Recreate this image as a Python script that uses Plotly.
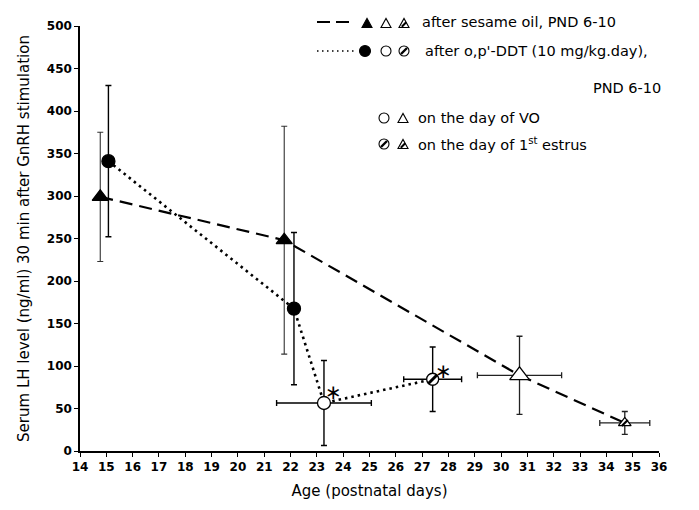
import plotly.graph_objects as go

# ---------------- data ----------------
sesame_day = [14.77, 21.76, 30.7, 34.7]
sesame_lh = [299, 248, 89, 33]
sesame_lh_err = [76, 134, 46, 13.5]
sesame_day_err = [0, 0, 1.6, 0.95]

ddt_day = [15.08, 22.13, 23.27, 27.4]
ddt_lh = [341, 167.5, 56.5, 84.4]
ddt_lh_err = [89, 89.5, 50, 38]
ddt_day_err = [0, 0, 1.8, 1.1]

x_ticks = list(range(14, 37))
y_ticks = list(range(0, 501, 50))

legend_rows = [
    "after sesame oil, PND 6-10",
    "after o,p'-DDT (10 mg/kg.day),",
    "PND 6-10",
    "on the day of VO",
    "on the day of 1<sup>st</sup> estrus",
]

FONT = "DejaVu Sans"
W, H = 699, 510
ML, MR, MT, MB = 80, 40, 26, 59
PW, PH = W - ML - MR, H - MT - MB


def px(x):
    return (x - ML) / PW


def py(y):
    return (H - MB - y) / PH


fig = go.Figure()

# connecting lines
fig.add_trace(go.Scatter(x=sesame_day, y=sesame_lh, mode="lines",
                         line=dict(color="black", width=2.2, dash="13px,7px"),
                         hoverinfo="skip"))
fig.add_trace(go.Scatter(x=ddt_day, y=ddt_lh, mode="lines",
                         line=dict(color="black", width=2.6, dash="2.5px,4px"),
                         hoverinfo="skip"))


def pts(day, lh, lh_err, day_err, idx, symbol, size, fill, ecolor, ew, xerr=False):
    d = dict(
        x=[day[i] for i in idx], y=[lh[i] for i in idx],
        mode="markers",
        marker=dict(symbol=symbol, size=size, color=fill,
                    line=dict(color="black", width=1.3)),
        error_y=dict(type="data", array=[lh_err[i] for i in idx],
                     color=ecolor, thickness=ew, width=3),
        hoverinfo="skip",
    )
    if xerr:
        d["error_x"] = dict(type="data", array=[day_err[i] for i in idx],
                            color=ecolor, thickness=ew, width=3)
    fig.add_trace(go.Scatter(**d))


# sesame filled triangles
pts(sesame_day, sesame_lh, sesame_lh_err, sesame_day_err, [0, 1],
    "triangle-up", 14, "black", "#333", 1.1)
# DDT filled circles
pts(ddt_day, ddt_lh, ddt_lh_err, ddt_day_err, [0, 1],
    "circle", 13, "black", "black", 1.4)
# open triangle (VO, sesame)
pts(sesame_day, sesame_lh, sesame_lh_err, sesame_day_err, [2],
    "triangle-up", 17, "white", "#222", 1.3, xerr=True)
# hatched triangle (estrus, sesame)
pts(sesame_day, sesame_lh, sesame_lh_err, sesame_day_err, [3],
    "triangle-up", 11, "white", "#222", 1.3, xerr=True)
# open circle (VO, DDT)
pts(ddt_day, ddt_lh, ddt_lh_err, ddt_day_err, [2],
    "circle", 13, "white", "black", 1.4, xerr=True)
# hatched circle (estrus, DDT)
pts(ddt_day, ddt_lh, ddt_lh_err, ddt_day_err, [3],
    "circle", 12, "white", "black", 1.4, xerr=True)

# hatching strokes
fig.add_trace(go.Scatter(x=[ddt_day[3]], y=[ddt_lh[3]], mode="markers",
                         marker=dict(symbol="line-ne", size=9,
                                     line=dict(color="black", width=3)),
                         hoverinfo="skip"))
fig.add_trace(go.Scatter(x=[sesame_day[3]], y=[sesame_lh[3]], mode="markers",
                         marker=dict(symbol="line-ne", size=6,
                                     line=dict(color="black", width=2.2)),
                         hoverinfo="skip"))

# asterisks (significance marks)
for i, (dx, dy) in ((2, (10, 11)), (3, (11, 8))):
    fig.add_annotation(x=ddt_day[i], y=ddt_lh[i], text="\u2217", showarrow=False,
                       xshift=dx, yshift=dy,
                       font=dict(family=FONT, size=20, color="#000000"))

# ---------------- legend glyphs (shapes in paper space) ----------------
def tri(gx, gy, s, fill):
    h = s * 0.9
    p = "M {} {} L {} {} L {} {} Z".format(
        px(gx - s / 2), py(gy + h / 2),
        px(gx + s / 2), py(gy + h / 2),
        px(gx), py(gy - h / 2))
    fig.add_shape(type="path", xref="paper", yref="paper", path=p,
                  fillcolor=fill, line=dict(color="black", width=1.1))


def circ(gx, gy, d, fill):
    fig.add_shape(type="circle", xref="paper", yref="paper",
                  x0=px(gx - d / 2), x1=px(gx + d / 2),
                  y0=py(gy + d / 2), y1=py(gy - d / 2),
                  fillcolor=fill, line=dict(color="black", width=1.1))


def hatch(gx, gy, r, w=2.2):
    fig.add_shape(type="line", xref="paper", yref="paper",
                  x0=px(gx - r), x1=px(gx + r), y0=py(gy + r), y1=py(gy - r),
                  line=dict(color="black", width=w))


tri(367, 23, 10, "black")
tri(386, 23, 10, "white")
tri(404, 23, 10, "white"); hatch(404, 24.5, 2.2, 2)
circ(365, 51, 11, "black")
circ(386, 51, 10, "white")
circ(404, 51, 10, "white"); hatch(404, 51, 3, 2.4)
circ(384, 118, 10, "white")
tri(403, 118, 10, "white")
circ(384, 144, 10, "white"); hatch(384, 144, 3, 2.4)
tri(403, 144, 10, "white"); hatch(403, 145.5, 2.2, 2)

# legend line samples
fig.add_shape(type="line", xref="paper", yref="paper",
              x0=px(317), x1=px(349), y0=py(22), y1=py(22),
              line=dict(color="black", width=2.2, dash="13px,6px"))
fig.add_shape(type="line", xref="paper", yref="paper",
              x0=px(317), x1=px(356), y0=py(51), y1=py(51),
              line=dict(color="black", width=1.6, dash="1.5px,3.5px"))

# legend texts
leg_text_pos = [(420, 22, "left"), (423, 51, "left"), (663, 88, "right"),
                (416, 118, "left"), (416, 144, "left")]
for (tx, ty, anc), txt in zip(leg_text_pos, legend_rows):
    fig.add_annotation(xref="paper", yref="paper", x=px(tx), y=py(ty),
                       text=txt, showarrow=False, xanchor=anc, yanchor="middle",
                       font=dict(family=FONT, size=14.5, color="black"))

fig.update_layout(
    width=W, height=H,
    margin=dict(l=ML, r=MR, t=MT, b=MB, pad=0),
    paper_bgcolor="white", plot_bgcolor="white",
    showlegend=False,
    font=dict(family=FONT, color="black"),
    xaxis=dict(range=[14, 36], tickvals=x_ticks, ticktext=[str(v) for v in x_ticks],
               showline=True, linecolor="black", linewidth=1.5,
               ticks="outside", ticklen=4, tickwidth=1, tickcolor="black",
               showgrid=False, zeroline=False,
               tickfont=dict(family=FONT, size=12, color="black", weight="bold"),
               title=dict(text="Age (postnatal days)", standoff=12,
                          font=dict(family=FONT, size=15, color="black"))),
    yaxis=dict(range=[0, 500], tickvals=y_ticks,
               showline=True, linecolor="black", linewidth=1.5,
               ticks="outside", ticklen=4, tickwidth=1, tickcolor="black",
               showgrid=False, zeroline=False,
               tickfont=dict(family=FONT, size=12, color="black", weight="bold"),
               title=dict(text="Serum LH level (ng/ml) 30 min after GnRH stimulation",
                          standoff=14,
                          font=dict(family=FONT, size=15, color="black"))),
)

fig.write_html("out.html")
